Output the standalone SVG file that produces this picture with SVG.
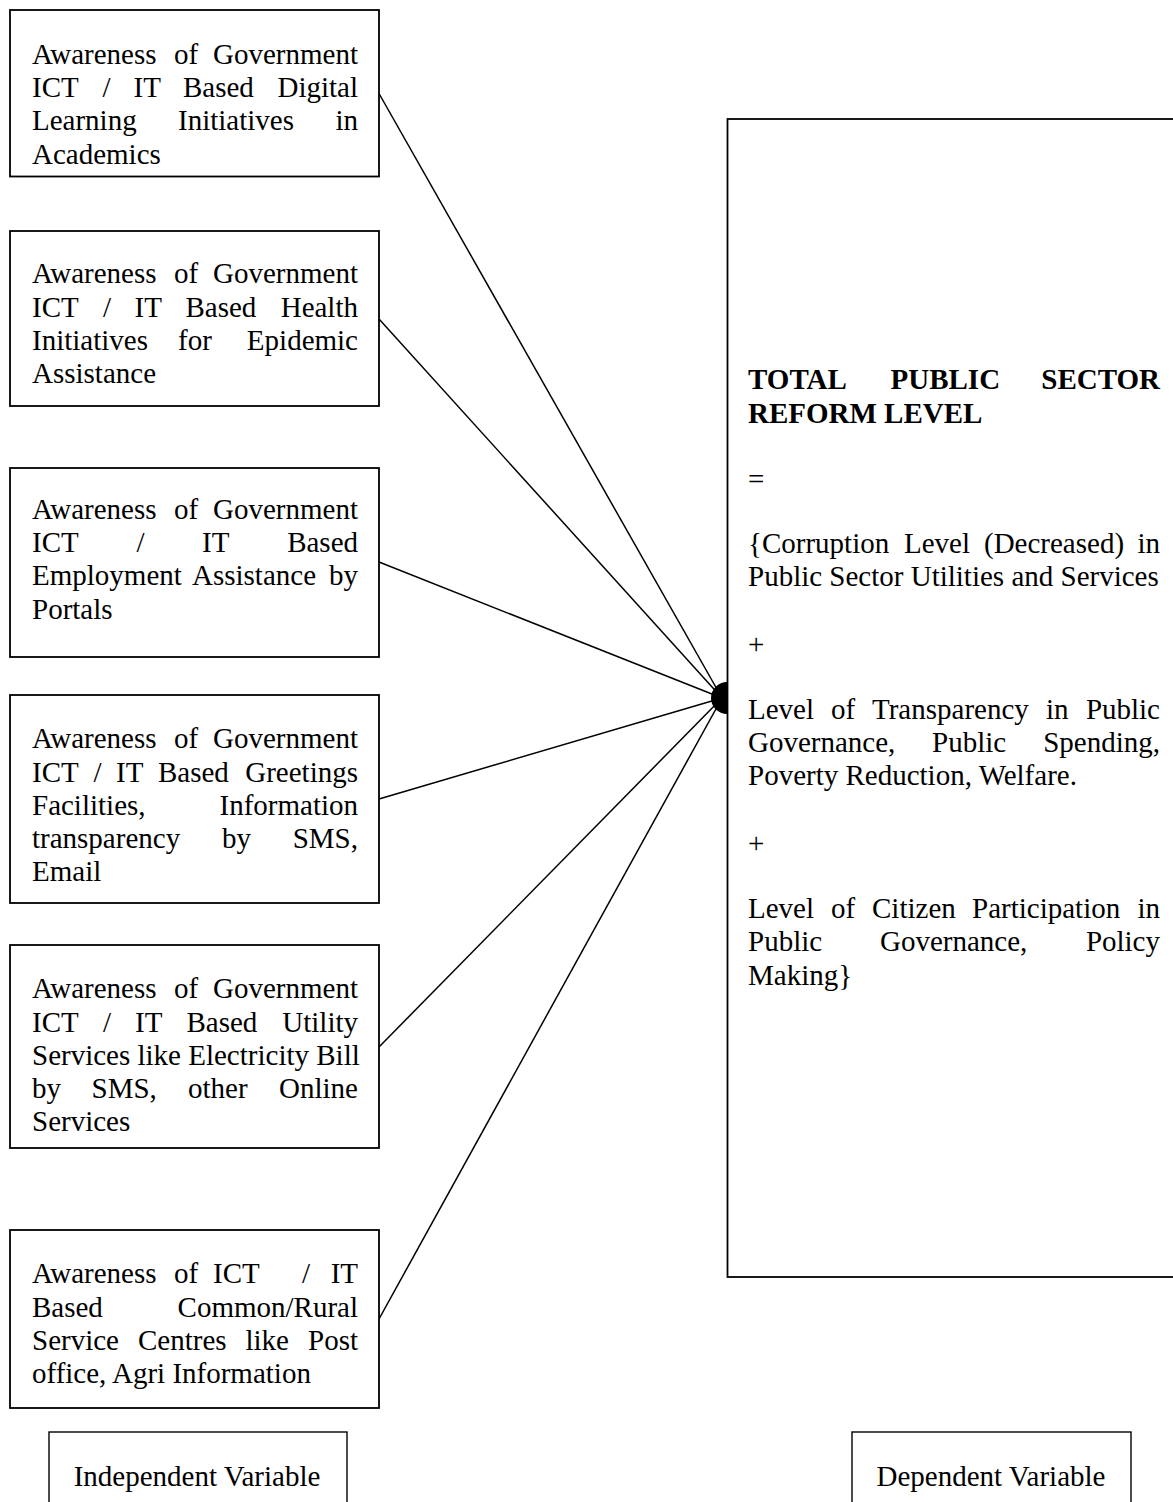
<svg xmlns="http://www.w3.org/2000/svg" width="1173" height="1502" viewBox="0 0 1173 1502">
<style>
text{font-family:"Liberation Serif","Times New Roman",serif;font-size:29px;fill:#000}
.r{text-anchor:end}
.b{font-weight:bold}
.c{text-anchor:middle}
.box{fill:#fff;stroke:#000;stroke-width:1.8}
.lbl{fill:#fff;stroke:#000;stroke-width:1.4}
.con{stroke:#000;stroke-width:1.5;fill:none}
</style>
<rect width="1173" height="1502" fill="#fff"/>
<g id="connectors">
<line class="con" x1="379" y1="93.5" x2="722" y2="698"/>
<line class="con" x1="379" y1="319" x2="722" y2="698"/>
<line class="con" x1="379" y1="562" x2="722" y2="698"/>
<line class="con" x1="379" y1="799" x2="722" y2="698"/>
<line class="con" x1="379" y1="1047" x2="722" y2="698"/>
<line class="con" x1="379" y1="1319" x2="722" y2="698"/>
<path d="M727,682 A16,16 0 0 0 727,714 Z" fill="#000"/>
</g>
<g id="iv1">
<rect class="box" x="10" y="10" width="369" height="166.5"/>
<text y="64"><tspan x="32">Awareness</tspan><tspan x="174">of</tspan></text><text class="r" x="358" y="64">Government</text>
<text y="97.2"><tspan x="32">ICT</tspan><tspan x="102.5">/</tspan><tspan x="133.5">IT</tspan><tspan x="183">Based</tspan></text><text class="r" x="358" y="97.2">Digital</text>
<text y="130.4"><tspan x="32">Learning</tspan><tspan x="178">Initiatives</tspan></text><text class="r" x="358" y="130.4">in</text>
<text x="32" y="163.6">Academics</text>
</g>
<g id="iv2">
<rect class="box" x="10" y="231" width="369" height="175"/>
<text y="283.3"><tspan x="32">Awareness</tspan><tspan x="174">of</tspan></text><text class="r" x="358" y="283.3">Government</text>
<text y="316.5"><tspan x="32">ICT</tspan><tspan x="103">/</tspan><tspan x="134.5">IT</tspan><tspan x="185.5">Based</tspan></text><text class="r" x="358" y="316.5">Health</text>
<text y="349.7"><tspan x="32">Initiatives</tspan><tspan x="178">for</tspan></text><text class="r" x="358" y="349.7">Epidemic</text>
<text x="32" y="382.9">Assistance</text>
</g>
<g id="iv3">
<rect class="box" x="10" y="468" width="369" height="189"/>
<text y="519"><tspan x="32">Awareness</tspan><tspan x="174">of</tspan></text><text class="r" x="358" y="519">Government</text>
<text y="552.2"><tspan x="32">ICT</tspan><tspan x="136.5">/</tspan><tspan x="202">IT</tspan></text><text class="r" x="358" y="552.2">Based</text>
<text y="585.4"><tspan x="32">Employment</tspan><tspan x="192">Assistance</tspan></text><text class="r" x="358" y="585.4">by</text>
<text x="32" y="618.6">Portals</text>
</g>
<g id="iv4">
<rect class="box" x="10" y="695" width="369" height="208"/>
<text y="748.3"><tspan x="32">Awareness</tspan><tspan x="174">of</tspan></text><text class="r" x="358" y="748.3">Government</text>
<text y="781.5"><tspan x="32">ICT</tspan><tspan x="93.5">/</tspan><tspan x="116">IT</tspan><tspan x="158">Based</tspan></text><text class="r" x="358" y="781.5">Greetings</text>
<text x="32" y="814.7">Facilities,</text><text class="r" x="358" y="814.7">Information</text>
<text y="847.9"><tspan x="32">transparency</tspan><tspan x="222">by</tspan></text><text class="r" x="358" y="847.9">SMS,</text>
<text x="32" y="881.1">Email</text>
</g>
<g id="iv5">
<rect class="box" x="10" y="945" width="369" height="203"/>
<text y="998.3"><tspan x="32">Awareness</tspan><tspan x="174">of</tspan></text><text class="r" x="358" y="998.3">Government</text>
<text y="1031.5"><tspan x="32">ICT</tspan><tspan x="103">/</tspan><tspan x="135">IT</tspan><tspan x="186.5">Based</tspan></text><text class="r" x="358" y="1031.5">Utility</text>
<text x="32" y="1064.7">Services like Electricity Bill</text>
<text y="1097.9"><tspan x="32">by</tspan><tspan x="91.5">SMS,</tspan><tspan x="188">other</tspan></text><text class="r" x="358" y="1097.9">Online</text>
<text x="32" y="1131.1">Services</text>
</g>
<g id="iv6">
<rect class="box" x="10" y="1230" width="369" height="178"/>
<text y="1283.3"><tspan x="32">Awareness</tspan><tspan x="174">of</tspan><tspan x="213">ICT</tspan><tspan x="302">/</tspan></text><text class="r" x="358" y="1283.3">IT</text>
<text x="32" y="1316.5">Based</text><text class="r" x="358" y="1316.5">Common/Rural</text>
<text y="1349.7"><tspan x="32">Service</tspan><tspan x="138">Centres</tspan><tspan x="245.5">like</tspan></text><text class="r" x="358" y="1349.7">Post</text>
<text x="32" y="1382.9">office, Agri Information</text>
</g>
<g id="dv">
<rect class="box" x="727.5" y="119" width="500" height="1158"/>
<text class="b" y="389"><tspan x="748">TOTAL</tspan><tspan x="890.5">PUBLIC</tspan></text><text class="b r" x="1160" y="389">SECTOR</text>
<text class="b" x="748" y="423">REFORM LEVEL</text>
<text x="748" y="489">=</text>
<text y="553"><tspan x="748">{Corruption</tspan><tspan x="904">Level</tspan><tspan x="984">(Decreased)</tspan></text><text class="r" x="1160" y="553">in</text>
<text x="748" y="586">Public Sector Utilities and Services</text>
<text x="748" y="654">+</text>
<text y="719"><tspan x="748">Level</tspan><tspan x="831">of</tspan><tspan x="872">Transparency</tspan><tspan x="1046">in</tspan></text><text class="r" x="1160" y="719">Public</text>
<text y="752"><tspan x="748">Governance,</tspan><tspan x="932">Public</tspan></text><text class="r" x="1160" y="752">Spending,</text>
<text x="748" y="785">Poverty Reduction, Welfare.</text>
<text x="748" y="853">+</text>
<text y="918"><tspan x="748">Level</tspan><tspan x="831">of</tspan><tspan x="872">Citizen</tspan><tspan x="972">Participation</tspan></text><text class="r" x="1160" y="918">in</text>
<text y="951"><tspan x="748">Public</tspan><tspan x="880">Governance,</tspan></text><text class="r" x="1160" y="951">Policy</text>
<text x="748" y="985">Making}</text>
</g>
<g id="label-independent">
<rect class="lbl" x="49" y="1432" width="298" height="100"/>
<text class="c" x="197" y="1486">Independent Variable</text>
</g>
<g id="label-dependent">
<rect class="lbl" x="852" y="1432" width="279" height="100"/>
<text class="c" x="991" y="1486">Dependent Variable</text>
</g>
</svg>
